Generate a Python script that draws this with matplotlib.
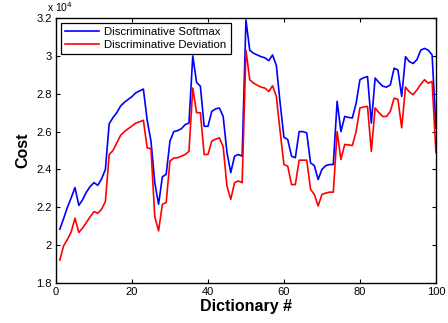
import numpy as np
import matplotlib
matplotlib.use("Agg")
import matplotlib.pyplot as plt

plt.rcParams['font.family'] = ['Liberation Sans', 'DejaVu Sans']

# cost values (x 10^4) for dictionaries 1..100
dictionary = np.arange(1, 101)

softmax = [
    2.084, 2.14, 2.20, 2.25, 2.304, 2.21, 2.24, 2.28, 2.31, 2.33,
    2.316, 2.35, 2.40, 2.642, 2.674, 2.70, 2.735, 2.755, 2.77, 2.785,
    2.805, 2.815, 2.825, 2.66, 2.55, 2.33, 2.216, 2.361, 2.374, 2.55,
    2.60, 2.605, 2.615, 2.637, 2.645, 3.0, 2.86, 2.84, 2.628, 2.628,
    2.707, 2.72, 2.725, 2.68, 2.49, 2.383, 2.47, 2.479, 2.47, 3.19,
    3.03, 3.014, 3.005, 2.996, 2.99, 2.975, 3.005, 2.95, 2.75, 2.57,
    2.558, 2.47, 2.462, 2.60, 2.60, 2.593, 2.435, 2.42, 2.347, 2.40,
    2.42, 2.426, 2.426, 2.76, 2.60, 2.68, 2.675, 2.672, 2.75, 2.874,
    2.885, 2.891, 2.645, 2.883, 2.86, 2.84, 2.835, 2.847, 2.935, 2.926,
    2.786, 2.996, 2.97, 2.96, 2.98, 3.03, 3.04, 3.03, 3.005, 2.62,
]

deviation = [
    1.921, 1.996, 2.03, 2.07, 2.142, 2.067, 2.09, 2.12, 2.15, 2.177,
    2.168, 2.19, 2.23, 2.479, 2.50, 2.54, 2.58, 2.60, 2.615, 2.63,
    2.645, 2.652, 2.66, 2.514, 2.509, 2.15, 2.075, 2.216, 2.225, 2.444,
    2.46, 2.462, 2.47, 2.479, 2.496, 2.83, 2.70, 2.70, 2.479, 2.479,
    2.55, 2.56, 2.567, 2.52, 2.312, 2.242, 2.33, 2.339, 2.33, 3.03,
    2.874, 2.856, 2.845, 2.835, 2.83, 2.812, 2.842, 2.786, 2.60, 2.426,
    2.417, 2.32, 2.32, 2.449, 2.449, 2.449, 2.295, 2.268, 2.207, 2.268,
    2.275, 2.28, 2.28, 2.60, 2.453, 2.532, 2.53, 2.526, 2.60, 2.725,
    2.73, 2.733, 2.496, 2.725, 2.70, 2.68, 2.68, 2.707, 2.777, 2.77,
    2.62, 2.835, 2.81, 2.795, 2.82, 2.85, 2.874, 2.856, 2.865, 2.49,
]

xticks = [0, 20, 40, 60, 80, 100]
yticks = [1.8, 2.0, 2.2, 2.4, 2.6, 2.8, 3.0, 3.2]
ytick_labels = ['1.8', '2', '2.2', '2.4', '2.6', '2.8', '3', '3.2']

fig = plt.figure(figsize=(4.48, 3.23), dpi=100)
ax = fig.add_axes([0.125, 0.124, 0.848, 0.820])

ax.plot(dictionary, softmax, color='#0000ff', linewidth=1.2, label='Discriminative Softmax')
ax.plot(dictionary, deviation, color='#ff0000', linewidth=1.2, label='Discriminative Deviation')

ax.set_xlim(0, 100)
ax.set_ylim(1.8, 3.2)
ax.set_xticks(xticks)
ax.set_yticks(yticks)
ax.set_yticklabels(ytick_labels)
ax.tick_params(direction='in', length=3, width=0.8, labelsize=8, top=True, right=True, pad=3)
for s in ax.spines.values():
    s.set_linewidth(1.0)

ax.set_xlabel('Dictionary #', fontsize=11.5, fontweight='bold', labelpad=1)
ax.set_ylabel('Cost', fontsize=11.5, fontweight='bold', labelpad=4)

fig.text(0.105, 0.958, 'x 10$^4$', fontsize=7.5, ha='left', va='bottom')

leg = ax.legend(loc='upper left', bbox_to_anchor=(0.0, 1.0), borderaxespad=0.45,
                fontsize=8.2, handlelength=3.0, handletextpad=0.45, borderpad=0.35,
                labelspacing=0.25, fancybox=False, framealpha=1, edgecolor='black')
leg.get_frame().set_linewidth(0.9)

fig.savefig('out.png', dpi=100)
